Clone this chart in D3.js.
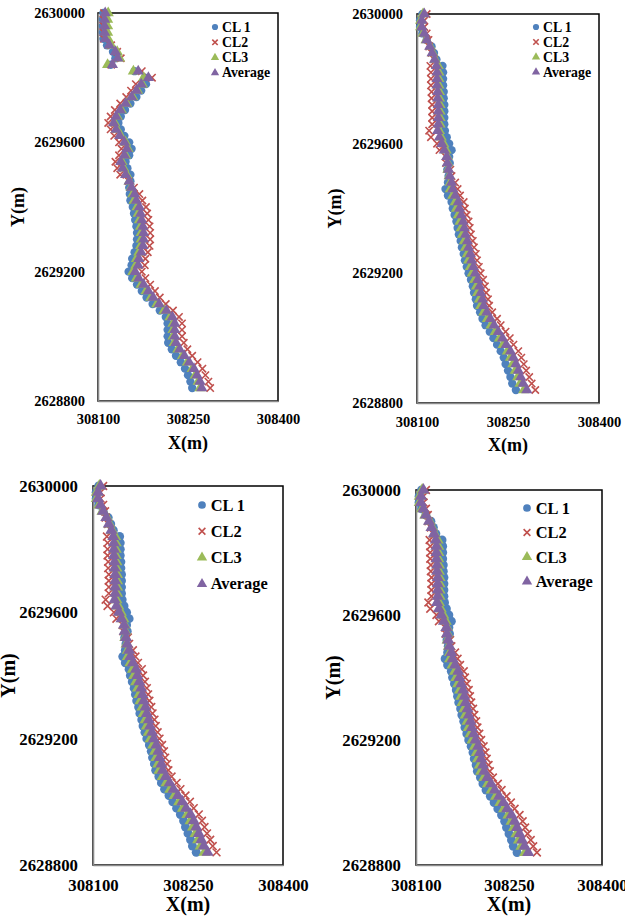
<!DOCTYPE html>
<html>
<head>
<meta charset="utf-8">
<script src="https://cdn.jsdelivr.net/npm/d3@7"></script>
<style>
    body { margin: 0; background: #fff; }
    svg text { font-family: "Liberation Serif", "Times New Roman", serif; font-weight: bold; fill: #000; }
</style>
</head>
<body>
<svg id="chart" width="625" height="916"></svg>
<script>
const seriesNames = ["CL 1", "CL2", "CL3", "Average"];
const seriesColors = ["#4f81bd", "#c0504d", "#9bbb59", "#8064a2"];
const xTicks = [308100, 308250, 308400];
const yTicks = [2628800, 2629200, 2629600, 2630000];

// northing of each read-off station (same stations for every series)
const stationY = [2630000, 2629980, 2629960, 2629940, 2629920, 2629900, 2629880, 2629860, 2629840, 2629820,
    2629800, 2629780, 2629760, 2629740, 2629720, 2629700, 2629680, 2629660, 2629640, 2629620,
    2629600, 2629580, 2629560, 2629540, 2629520, 2629500, 2629480, 2629460, 2629440, 2629420,
    2629400, 2629380, 2629360, 2629340, 2629320, 2629300, 2629280, 2629260, 2629240, 2629220,
    2629200, 2629180, 2629160, 2629140, 2629120, 2629100, 2629080, 2629060, 2629040, 2629020,
    2629000, 2628980, 2628960, 2628940, 2628920, 2628900, 2628880, 2628860, 2628840];

// first chart (top left)
const cl1A = [308109, 308108, 308108, 308108, 308109, 308115, 308125, 308129, 308121, 308161,
    308178, 308180, 308172, 308164, 308154, 308145, 308138, 308134, 308138, 308144,
    308152, 308156, 308152, 308146, 308149, 308154, 308154, 308152, 308153, 308154,
    308158, 308160, 308162, 308164, 308165, 308165, 308164, 308161, 308157, 308156,
    308151, 308157, 308165, 308173, 308181, 308191, 308203, 308213, 308216, 308216,
    308216, 308217, 308223, 308230, 308238, 308245, 308250, 308254, 308257];
const cl2A = [308110, 308109, 308109, 308109, 308110, 308122, 308132, 308138, 308122, 308173,
    308190, 308163, 308155, 308147, 308137, 308128, 308121, 308117, 308121, 308127,
    308135, 308139, 308135, 308129, 308132, 308137, 308151, 308160, 308169, 308174,
    308180, 308182, 308184, 308186, 308187, 308187, 308186, 308183, 308179, 308178,
    308173, 308179, 308187, 308195, 308203, 308213, 308225, 308235, 308240, 308240,
    308240, 308243, 308249, 308257, 308266, 308274, 308279, 308284, 308287];
const cl3A = [308117, 308116, 308116, 308116, 308117, 308122, 308132, 308136, 308116, 308159,
    308176, 308174, 308166, 308158, 308148, 308139, 308132, 308128, 308132, 308138,
    308146, 308150, 308146, 308140, 308143, 308148, 308152, 308155, 308158, 308160,
    308165, 308167, 308169, 308171, 308172, 308172, 308171, 308168, 308164, 308163,
    308158, 308164, 308172, 308180, 308188, 308198, 308210, 308220, 308225, 308225,
    308225, 308227, 308233, 308241, 308249, 308257, 308262, 308267, 308270];
const avgA = [308112, 308111, 308111, 308111, 308112, 308119, 308129, 308133, 308124, 308167,
    308184, 308172, 308164, 308156, 308146, 308137, 308130, 308126, 308130, 308136,
    308144, 308148, 308144, 308138, 308141, 308146, 308152, 308156, 308161, 308164,
    308169, 308171, 308173, 308175, 308176, 308176, 308175, 308172, 308168, 308167,
    308162, 308168, 308176, 308184, 308192, 308202, 308214, 308224, 308228, 308228,
    308228, 308230, 308236, 308244, 308252, 308260, 308265, 308270, 308273];

// other three charts read the same
const cl1B = [308109, 308105, 308105, 308109, 308116, 308124, 308128, 308132, 308142, 308143,
    308143, 308143, 308144, 308144, 308145, 308145, 308145, 308145, 308146, 308149,
    308153, 308157, 308153, 308154, 308150, 308152, 308151, 308147, 308151, 308157,
    308159, 308162, 308165, 308167, 308169, 308172, 308174, 308177, 308179, 308182,
    308185, 308189, 308192, 308194, 308197, 308199, 308204, 308208, 308213, 308220,
    308226, 308232, 308238, 308243, 308246, 308250, 308254, 308257, 308263];
const cl2B = [308116, 308112, 308112, 308116, 308119, 308120, 308124, 308128, 308122, 308123,
    308123, 308123, 308124, 308124, 308125, 308125, 308125, 308125, 308120, 308123,
    308133, 308137, 308147, 308148, 308155, 308157, 308163, 308167, 308171, 308177,
    308179, 308182, 308185, 308187, 308189, 308192, 308194, 308197, 308199, 308202,
    308205, 308209, 308212, 308214, 308217, 308219, 308224, 308232, 308238, 308246,
    308253, 308259, 308267, 308272, 308276, 308280, 308285, 308289, 308295];
const cl3B = [308110, 308106, 308106, 308110, 308115, 308122, 308126, 308130, 308135, 308136,
    308136, 308136, 308137, 308137, 308138, 308138, 308138, 308138, 308137, 308140,
    308144, 308148, 308150, 308151, 308151, 308153, 308155, 308155, 308159, 308163,
    308165, 308168, 308171, 308173, 308175, 308178, 308180, 308183, 308185, 308188,
    308191, 308195, 308198, 308200, 308203, 308205, 308210, 308216, 308222, 308229,
    308236, 308242, 308249, 308254, 308258, 308262, 308266, 308270, 308276];
const avgB = [308112, 308108, 308108, 308112, 308116, 308121, 308125, 308129, 308132, 308133,
    308133, 308133, 308134, 308134, 308135, 308135, 308135, 308135, 308134, 308137,
    308141, 308145, 308149, 308150, 308152, 308154, 308157, 308159, 308163, 308168,
    308170, 308173, 308176, 308178, 308180, 308183, 308185, 308188, 308190, 308193,
    308196, 308200, 308203, 308205, 308208, 308210, 308215, 308221, 308227, 308234,
    308241, 308247, 308254, 308259, 308263, 308267, 308271, 308275, 308281];

const setA = [cl1A, cl2A, cl3A, avgA];
const setB = [cl1B, cl2B, cl3B, avgB];

const panels = [
    { x0: 98, x1: 278, y0: 13, y1: 401, data: setA, tick: 14.5, title: 18, padY: 13, padX: 13,
      xTitleY: 443, yTitleX: 18, legX: 215, legY: 27, legStep: 15.3, legFont: 13.8, mk: 1.35, legMk: 1 },
    { x0: 417, x1: 599, y0: 14, y1: 403, data: setB, tick: 14.5, title: 18, padY: 14, padX: 14,
      xTitleY: 445, yTitleX: 335, legX: 536, legY: 27, legStep: 15, legFont: 13.8, mk: 1.35, legMk: 1 },
    { x0: 93, x1: 283, y0: 486, y1: 865, data: setB, tick: 16.8, title: 20, padY: 15, padX: 14,
      xTitleY: 904, yTitleX: 8, legX: 202, legY: 505, legStep: 26.3, legFont: 16.4, mk: 1.45, legMk: 1.25 },
    { x0: 416, x1: 602, y0: 490, y1: 865, data: setB, tick: 16.8, title: 20, padY: 15, padX: 14,
      xTitleY: 904, yTitleX: 333, legX: 527, legY: 508, legStep: 24.5, legFont: 16.4, mk: 1.45, legMk: 1.25 }
];

const svg = d3.select("#chart");
svg.append("rect").attr("width", 625).attr("height", 916).attr("fill", "#fff");

function drawMarker(g, k, size) {
    if (k === 0) {
        g.append("path").attr("d", d3.symbol(d3.symbolCircle, 30 * size * size)()).attr("fill", seriesColors[0]);
    } else if (k === 1) {
        const a = 2.7 * size;
        g.append("path")
            .attr("d", `M${-a},${-a}L${a},${a}M${-a},${a}L${a},${-a}`)
            .attr("stroke", seriesColors[1])
            .attr("stroke-width", 1.6)
            .attr("fill", "none");
    } else {
        g.append("path")
            .attr("d", d3.symbol(d3.symbolTriangle, 30 * size * size)())
            .attr("fill", seriesColors[k]);
    }
}

panels.forEach((p) => {
    const x = d3.scaleLinear().domain([308100, 308400]).range([p.x0, p.x1]);
    const y = d3.scaleLinear().domain([2628800, 2630000]).range([p.y1, p.y0]);
    const g = svg.append("g");

    // frame: black top/right, grey axis lines left/bottom
    g.append("rect")
        .attr("x", p.x0).attr("y", p.y0)
        .attr("width", p.x1 - p.x0).attr("height", p.y1 - p.y0)
        .attr("fill", "none").attr("stroke", "#000").attr("stroke-width", 1.5);

    const yAxis = g.append("g")
        .attr("transform", `translate(${p.x0},0)`)
        .call(d3.axisLeft(y).tickValues(yTicks).tickSize(0).tickPadding(p.padY).tickFormat(d3.format("d")));
    const xAxis = g.append("g")
        .attr("transform", `translate(0,${p.y1})`)
        .call(d3.axisBottom(x).tickValues(xTicks).tickSize(0).tickPadding(p.padX).tickFormat(d3.format("d")));
    [yAxis, xAxis].forEach((a) => {
        a.attr("font-family", null).attr("font-size", p.tick);
        a.select(".domain").attr("stroke", "#8a8a8a").attr("stroke-width", 1.6);
    });

    g.append("text")
        .attr("x", (p.x0 + p.x1) / 2).attr("y", p.xTitleY)
        .attr("text-anchor", "middle").attr("dominant-baseline", "central")
        .attr("font-size", p.title)
        .text("X(m)");
    g.append("text")
        .attr("transform", `translate(${p.yTitleX},${(p.y0 + p.y1) / 2}) rotate(-90)`)
        .attr("text-anchor", "middle").attr("dominant-baseline", "central")
        .attr("font-size", p.title)
        .text("Y(m)");

    // series, Average drawn last
    p.data.forEach((xs, k) => {
        const sg = g.append("g");
        xs.forEach((xv, i) => {
            const m = sg.append("g").attr("transform", `translate(${x(xv)},${y(stationY[i])})`);
            drawMarker(m, k, p.mk);
        });
    });

    // legend
    seriesNames.forEach((name, k) => {
        const ly = p.legY + k * p.legStep;
        const m = g.append("g").attr("transform", `translate(${p.legX},${ly})`);
        drawMarker(m, k, p.legMk);
        g.append("text")
            .attr("x", p.legX + 7 * p.legMk).attr("y", ly)
            .attr("dominant-baseline", "central")
            .attr("font-size", p.legFont)
            .text(name);
    });
});
</script>
</body>
</html>
